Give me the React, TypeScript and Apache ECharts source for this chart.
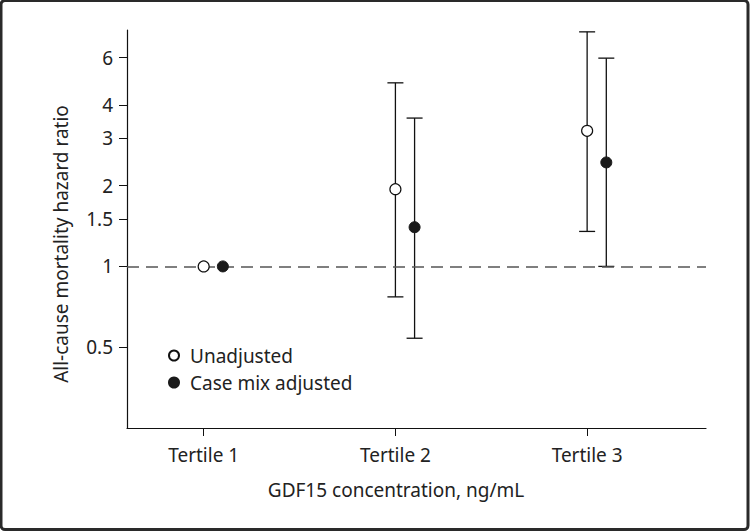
import React, { useEffect, useRef } from "react";
import * as echarts from "echarts";

const categories = ["Tertile 1", "Tertile 2", "Tertile 3"];
const unadjustedHR = [1, 1.94, 3.2];
const unadjustedLow = [null, 0.77, 1.35];
const unadjustedHigh = [null, 4.83, 7.48];
const adjustedHR = [1, 1.4, 2.44];
const adjustedLow = [null, 0.54, 1.0];
const adjustedHigh = [null, 3.57, 5.97];
const yTickValues = [0.5, 1, 1.5, 2, 3, 4, 6];
const yMin = 0.25;
const yMax = 7.6;

const FONT = "Noto Sans";
const FS = 19;
const lg = (v: number) => Math.log10(v);

export default function App() {
  const ref = useRef<HTMLDivElement>(null);
  useEffect(() => {
    document.body.style.margin = "0";
    const chart = echarts.init(ref.current!, null, { renderer: "svg" });
    const dodge = 0.1;
    const xPos = (i: number, s: number) => i + 1 + s * dodge;

    const errData: any[] = [];
    categories.forEach((_, i) => {
      if (unadjustedLow[i] != null && unadjustedHigh[i] != null)
        errData.push([xPos(i, 0), lg(unadjustedLow[i] as number), lg(unadjustedHigh[i] as number)]);
      if (adjustedLow[i] != null && adjustedHigh[i] != null)
        errData.push([xPos(i, 1), lg(adjustedLow[i] as number), lg(adjustedHigh[i] as number)]);
    });

    const option: any = {
      animation: false,
      backgroundColor: "#fff",
      textStyle: { fontFamily: FONT },
      grid: { left: 127, right: 44, top: 30, bottom: 103, containLabel: false },
      xAxis: {
        type: "value",
        min: 0.6,
        max: 3.62,
        splitLine: { show: false },
        axisLine: { onZero: false, lineStyle: { color: "#111", width: 1.2 } },
        axisTick: { show: true, length: 8, customValues: [1, 2, 3], lineStyle: { color: "#111" } },
        axisLabel: {
          customValues: [1, 2, 3],
          margin: 17,
          fontSize: FS,
          color: "#222",
          fontFamily: FONT,
          formatter: (v: number) => categories[Math.round(v) - 1] ?? "",
        },
      },
      yAxis: {
        type: "value",
        min: lg(yMin),
        max: lg(yMax),
        splitLine: { show: false },
        axisLine: { show: true, onZero: false, lineStyle: { color: "#111", width: 1.2 } },
        axisTick: { show: true, length: 8, customValues: yTickValues.map(lg), lineStyle: { color: "#111" } },
        axisLabel: {
          customValues: yTickValues.map(lg),
          margin: 14,
          fontSize: FS,
          color: "#222",
          fontFamily: FONT,
          formatter: (v: number) => String(Number(Math.pow(10, v).toPrecision(2))),
        },
      },
      legend: {
        orient: "vertical",
        left: 168,
        top: 346,
        padding: 0,
        itemWidth: 10,
        itemHeight: 10,
        itemGap: 8,
        textStyle: { fontSize: FS, color: "#222", fontFamily: FONT, padding: [0, 0, 0, 6] },
        data: [
          { name: "Unadjusted", icon: "circle" },
          { name: "Case mix adjusted", icon: "circle" },
        ],
      },
      graphic: [
        {
          type: "rect",
          shape: { x: 1, y: 0.5, width: 747, height: 529, r: 4 },
          style: { fill: "none", stroke: "#2a2a2a", lineWidth: 3 },
          silent: true,
        },
        {
          type: "text",
          x: 396,
          y: 490,
          style: {
            text: "GDF15 concentration, ng/mL",
            fontSize: FS,
            fontFamily: FONT,
            fill: "#222",
            align: "center",
            verticalAlign: "middle",
          },
        },
        {
          type: "text",
          x: 61,
          y: 244,
          rotation: Math.PI / 2,
          style: {
            text: "All-cause mortality hazard ratio",
            fontSize: FS,
            fontFamily: FONT,
            fill: "#222",
            align: "center",
            verticalAlign: "middle",
          },
        },
      ],
      series: [
        {
          type: "custom",
          name: "CI",
          silent: true,
          z: 2,
          data: errData,
          renderItem: (params: any, api: any) => {
            const x = api.value(0);
            const lo = api.coord([x, api.value(1)]);
            const hi = api.coord([x, api.value(2)]);
            const w = 8;
            const st = { stroke: "#111", lineWidth: 1.3 };
            return {
              type: "group",
              children: [
                { type: "line", shape: { x1: lo[0], y1: lo[1], x2: hi[0], y2: hi[1] }, style: st },
                { type: "line", shape: { x1: lo[0] - w, y1: lo[1], x2: lo[0] + w, y2: lo[1] }, style: st },
                { type: "line", shape: { x1: hi[0] - w, y1: hi[1], x2: hi[0] + w, y2: hi[1] }, style: st },
              ],
            };
          },
        },
        {
          type: "scatter",
          name: "Unadjusted",
          symbol: "circle",
          symbolSize: 11,
          z: 5,
          itemStyle: { color: "#fff", borderColor: "#111", borderWidth: 1.2, opacity: 1 },
          data: unadjustedHR.map((v, i) => [xPos(i, 0), lg(v)]),
          markLine: {
            silent: true,
            symbol: "none",
            label: { show: false },
            lineStyle: { color: "#555", width: 1.5, type: [12, 7] },
            data: [{ yAxis: lg(1) }],
          },
        },
        {
          type: "scatter",
          name: "Case mix adjusted",
          symbol: "circle",
          symbolSize: 11,
          z: 5,
          itemStyle: { color: "#1a1a1a", borderColor: "#1a1a1a", borderWidth: 1, opacity: 1 },
          data: adjustedHR.map((v, i) => [xPos(i, 1), lg(v)]),
        },
      ],
    };
    chart.setOption(option);
    return () => chart.dispose();
  }, []);
  return <div ref={ref} style={{ position: "absolute", left: 0, top: 0, width: 750, height: 531 }} />;
}
